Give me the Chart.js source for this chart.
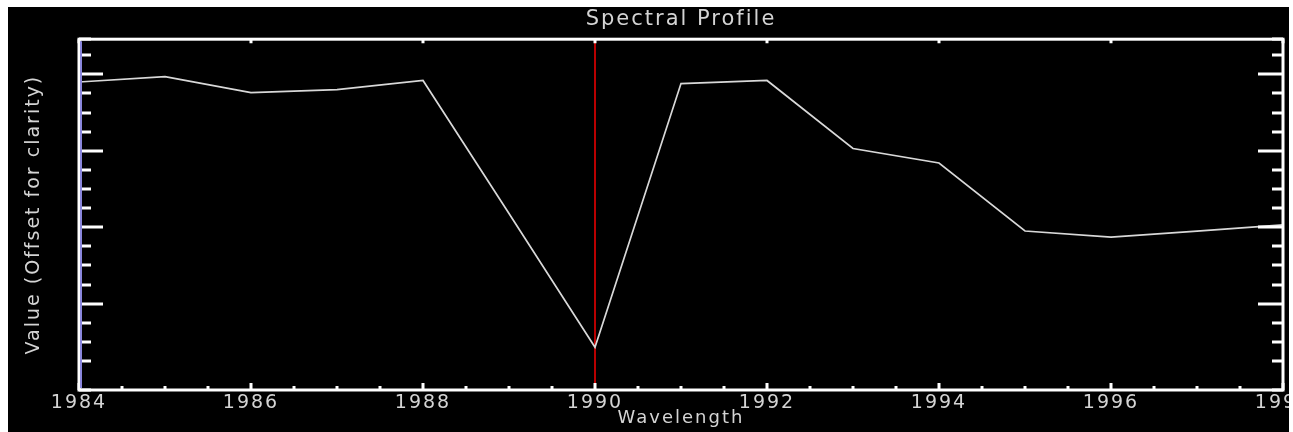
<!DOCTYPE html>
<html>
<head>
<meta charset="utf-8">
<title>Spectral Profile</title>
<script src="https://cdn.jsdelivr.net/npm/chart.js@4/dist/chart.umd.min.js"></script>
<style>
  html, body { margin: 0; padding: 0; background: #ffffff; }
  #wrap { position: absolute; left: 8px; top: 7px; width: 1281px; height: 425px; background: #000000; }
</style>
</head>
<body>
<div id="wrap"><canvas id="profileChart" width="1281" height="425"></canvas></div>
<script>
// wavelength samples and the plotted profile values (offset units)
const wavelengths = [1984, 1985, 1986, 1987, 1988, 1989, 1990, 1991, 1992, 1993, 1994, 1995, 1996, 1997, 1998];
const profileValues = [3.90, 3.97, 3.76, 3.80, 3.92, 2.18, 0.43, 3.88, 3.92, 3.03, 2.84, 1.95, 1.87, 1.95, 2.03];

// marker position and axis ranges
const markerWavelength = 1990;
const xRange = [1984, 1998];
const yRange = [-0.13, 4.46];

const textColor = "#d4d4d4";

const profilePoints = wavelengths.map((w, i) => ({ x: w, y: profileValues[i] }));
const markerPoints = [
  { x: markerWavelength, y: yRange[0] },
  { x: markerWavelength, y: yRange[1] }
];

// wide letter spacing, a bit like the old vector fonts
const wideText = {
  id: "wideText",
  beforeDraw(chart) {
    chart.ctx.letterSpacing = "2px";
  }
};

// IDL style inward tick marks + box frame
const frameTicks = {
  id: "frameTicks",
  afterDatasetsDraw(chart) {
    const { ctx, chartArea: a, scales } = chart;
    const xs = scales.x, ys = scales.y;
    ctx.save();
    ctx.strokeStyle = "#ffffff";
    ctx.lineWidth = 3;
    ctx.lineCap = "butt";

    xs.ticks.forEach(t => {
      const px = Math.round(xs.getPixelForValue(t.value));
      const major = t.value % 2 === 0;
      ctx.beginPath();
      ctx.moveTo(px, a.bottom);
      ctx.lineTo(px, a.bottom - (major ? 7 : 4));
      if (major) {
        ctx.moveTo(px, a.top);
        ctx.lineTo(px, a.top + 4);
      }
      ctx.stroke();
    });

    ys.ticks.forEach(t => {
      const py = Math.round(ys.getPixelForValue(t.value));
      const major = Math.abs(t.value - Math.round(t.value)) < 1e-6;
      ctx.beginPath();
      ctx.moveTo(a.left, py);
      ctx.lineTo(a.left + (major ? 24 : 12), py);
      ctx.moveTo(a.right, py);
      ctx.lineTo(a.right - (major ? 25 : 11), py);
      ctx.stroke();
    });

    ctx.strokeRect(a.left, a.top, a.right - a.left, a.bottom - a.top);

    ctx.strokeStyle = "#8a86dc";
    ctx.lineWidth = 2;
    ctx.beginPath();
    ctx.moveTo(a.left + 2, a.top + 2);
    ctx.lineTo(a.left + 2, a.bottom - 2);
    ctx.stroke();
    ctx.restore();
  }
};

new Chart(document.getElementById("profileChart"), {
  type: "line",
  data: {
    datasets: [
      {
        label: "Profile",
        data: profilePoints,
        borderColor: "#d8d8d8",
        borderWidth: 1.7,
        pointRadius: 0,
        tension: 0
      },
      {
        label: "Marker",
        data: markerPoints,
        borderColor: "#b80000",
        borderWidth: 2,
        pointRadius: 0
      }
    ]
  },
  options: {
    responsive: false,
    animation: false,
    layout: { padding: { left: 0, right: 6, top: 0, bottom: 0 } },
    scales: {
      x: {
        type: "linear",
        min: xRange[0],
        max: xRange[1],
        grid: { display: false, drawTicks: false },
        border: { display: false },
        ticks: {
          stepSize: 0.5,
          autoSkip: false,
          maxRotation: 0,
          padding: 2,
          color: textColor,
          font: { family: "DejaVu Sans", size: 19 },
          callback: v => (v % 2 === 0 ? String(v) : "")
        },
        title: {
          display: true,
          text: "Wavelength",
          color: textColor,
          font: { family: "DejaVu Sans", size: 18 },
          padding: { top: 0, bottom: 3 }
        },
        afterFit(scale) {
          scale.height = 42;
          scale.paddingLeft = 0;
          scale.paddingRight = 0;
        }
      },
      y: {
        type: "linear",
        min: yRange[0],
        max: yRange[1],
        grid: { display: false, drawTicks: false },
        border: { display: false },
        ticks: { display: false, stepSize: 0.25, autoSkip: false },
        title: {
          display: true,
          text: "Value (Offset for clarity)",
          color: textColor,
          font: { family: "DejaVu Sans", size: 19 },
          padding: { top: 15, bottom: 0 }
        },
        afterFit(scale) {
          scale.width = 71;
        }
      }
    },
    plugins: {
      legend: { display: false },
      tooltip: { enabled: false },
      title: {
        display: true,
        text: "Spectral Profile",
        fullSize: false,
        color: textColor,
        font: { family: "DejaVu Sans", size: 21, weight: "normal" },
        padding: { top: 0, bottom: 7 }
      }
    }
  },
  plugins: [wideText, frameTicks]
});
</script>
</body>
</html>
